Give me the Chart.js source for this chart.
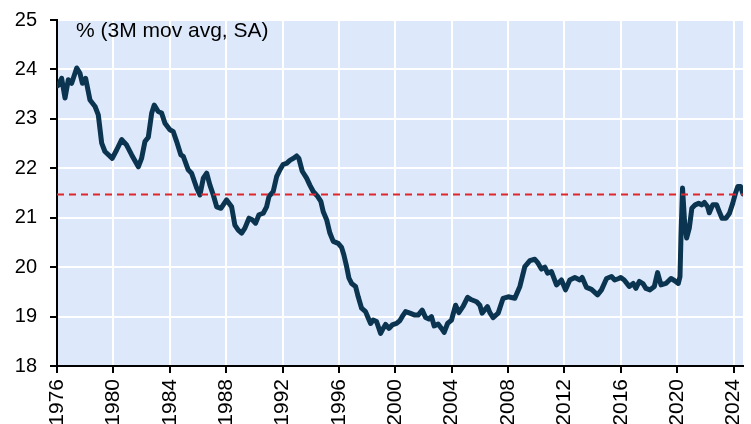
<!DOCTYPE html>
<html>
<head>
<meta charset="utf-8">
<script src="https://cdn.jsdelivr.net/npm/chart.js@4"></script>
<style>
  html, body { margin: 0; padding: 0; background: #fff; }
  #chart { display: block; }
</style>
</head>
<body>
<canvas id="chart" width="751" height="424"></canvas>
<script>
// values (decimal year, % 3M mov avg SA)
const years = [
  1976.05, 1976.33, 1976.57, 1976.8, 1977.04, 1977.4, 1977.63, 1977.8, 1978.03, 1978.34,
  1978.7, 1978.93, 1979.17, 1979.4, 1979.92, 1980.23, 1980.59, 1980.94, 1981.3, 1981.77,
  1982.0, 1982.24, 1982.48, 1982.72, 1982.9, 1983.18, 1983.42, 1983.66, 1984.01, 1984.25,
  1984.49, 1984.79, 1984.96, 1985.31, 1985.55, 1985.91, 1986.14, 1986.38, 1986.62, 1986.85,
  1987.09, 1987.33, 1987.63, 1988.03, 1988.39, 1988.62, 1988.86, 1989.1, 1989.33, 1989.62,
  1989.85, 1990.09, 1990.33, 1990.63, 1990.87, 1991.04, 1991.34, 1991.58, 1991.82, 1992.05,
  1992.29, 1992.52, 1992.76, 1993.0, 1993.16, 1993.4, 1993.71, 1993.94, 1994.18, 1994.49,
  1994.72, 1994.89, 1995.13, 1995.36, 1995.6, 1995.95, 1996.19, 1996.35, 1996.55, 1996.71,
  1996.9, 1997.18, 1997.37, 1997.61, 1997.89, 1998.08, 1998.25, 1998.43, 1998.67, 1998.96,
  1999.14, 1999.31, 1999.55, 1999.78, 2000.09, 2000.33, 2000.56, 2000.73, 2001.04, 2001.39,
  2001.62, 2001.91, 2002.15, 2002.38, 2002.57, 2002.76, 2003.04, 2003.28, 2003.47, 2003.71,
  2003.99, 2004.28, 2004.51, 2004.82, 2005.13, 2005.41, 2005.77, 2006.0, 2006.16, 2006.54,
  2006.71, 2006.94, 2007.3, 2007.65, 2008.01, 2008.48, 2008.84, 2009.19, 2009.55, 2009.9,
  2010.13, 2010.37, 2010.61, 2010.8, 2011.08, 2011.44, 2011.79, 2012.08, 2012.38, 2012.74,
  2013.09, 2013.26, 2013.57, 2013.92, 2014.35, 2014.63, 2014.99, 2015.34, 2015.57, 2015.86,
  2016.0, 2016.24, 2016.6, 2016.88, 2017.07, 2017.31, 2017.59, 2017.78, 2018.07, 2018.38,
  2018.61, 2018.85, 2019.2, 2019.56, 2019.8, 2020.08, 2020.2, 2020.27, 2020.38, 2020.53,
  2020.67, 2020.86, 2021.04, 2021.28, 2021.52, 2021.76, 2021.93, 2022.16, 2022.28, 2022.52,
  2022.8, 2022.99, 2023.18, 2023.47, 2023.71, 2023.94, 2024.13, 2024.3, 2024.5, 2024.67
];
const values = [
  23.67, 23.82, 23.42, 23.79, 23.72, 24.03, 23.92, 23.72, 23.82, 23.38,
  23.25, 23.08, 22.51, 22.34, 22.20, 22.37, 22.58, 22.47, 22.27, 22.03,
  22.20, 22.54, 22.63, 23.12, 23.28, 23.15, 23.12, 22.91, 22.78, 22.74,
  22.54, 22.27, 22.24, 21.97, 21.90, 21.60, 21.46, 21.80, 21.90, 21.66,
  21.46, 21.22, 21.19, 21.36, 21.22, 20.85, 20.75, 20.69, 20.79, 20.99,
  20.96, 20.89, 21.06, 21.09, 21.22, 21.43, 21.53, 21.83, 21.97, 22.08,
  22.10, 22.16, 22.20, 22.25, 22.20, 21.94, 21.80, 21.66, 21.53, 21.43,
  21.33, 21.12, 20.96, 20.69, 20.52, 20.48, 20.40, 20.25, 20.01, 19.78,
  19.67, 19.61, 19.40, 19.17, 19.10, 18.97, 18.86, 18.93, 18.90, 18.66,
  18.76, 18.84, 18.76, 18.83, 18.86, 18.92, 19.03, 19.10, 19.07, 19.03,
  19.03, 19.13, 18.98, 18.95, 19.00, 18.81, 18.85, 18.76, 18.68, 18.86,
  18.93, 19.23, 19.08, 19.21, 19.39, 19.34, 19.30, 19.23, 19.07, 19.20,
  19.08, 18.98, 19.07, 19.37, 19.40, 19.37, 19.61, 20.01, 20.13, 20.16,
  20.08, 19.96, 20.00, 19.88, 19.91, 19.64, 19.74, 19.54, 19.74, 19.79,
  19.74, 19.79, 19.59, 19.55, 19.44, 19.54, 19.77, 19.81, 19.74, 19.77,
  19.79, 19.74, 19.61, 19.67, 19.57, 19.71, 19.66, 19.57, 19.54, 19.61,
  19.89, 19.64, 19.67, 19.77, 19.73, 19.67, 19.81, 20.62, 21.60, 20.89,
  20.59, 20.79, 21.19, 21.26, 21.29, 21.26, 21.31, 21.22, 21.10, 21.26,
  21.26, 21.12, 20.99, 20.99, 21.09, 21.29, 21.49, 21.63, 21.63, 21.48
];
const refLevel = 21.47;
const xTicks = [1976, 1980, 1984, 1988, 1992, 1996, 2000, 2004, 2008, 2012, 2016, 2020, 2024];
const yTicks = [18, 19, 20, 21, 22, 23, 24, 25];
const unitLabel = '% (3M mov avg, SA)';

const xMin = xTicks[0];
const xMax = years[years.length - 1];
const fontFamily = '"Liberation Sans", Arial, sans-serif';

const seriesPoints = years.map((yr, i) => ({ x: yr, y: values[i] }));
const refPoints = [{ x: xMin, y: refLevel }, { x: xMax, y: refLevel }];

const plotBackground = {
  id: 'plotBackground',
  beforeDraw(chart) {
    const { ctx, chartArea: a } = chart;
    ctx.save();
    ctx.fillStyle = '#dde9fb';
    ctx.fillRect(a.left, a.top, a.right - a.left, a.bottom - a.top);
    ctx.restore();
  }
};

const unitText = {
  id: 'unitText',
  afterDraw(chart) {
    const { ctx, chartArea: a } = chart;
    ctx.save();
    ctx.font = '21px ' + fontFamily;
    ctx.fillStyle = '#000';
    ctx.textBaseline = 'middle';
    ctx.fillText(unitLabel, a.left + 19, a.top + 11);
    ctx.restore();
  }
};

function noPad(axis) {
  axis.paddingLeft = 0;
  axis.paddingRight = 0;
  axis.paddingTop = 0;
  axis.paddingBottom = 0;
}

new Chart(document.getElementById('chart'), {
  type: 'line',
  data: {
    datasets: [
      {
        data: seriesPoints,
        borderColor: '#0b3450',
        borderWidth: 5,
        pointRadius: 0,
        tension: 0,
        borderJoinStyle: 'round',
        borderCapStyle: 'round',
        order: 2
      },
      {
        data: refPoints,
        borderColor: '#e0252b',
        borderWidth: 2,
        borderDash: [7, 5],
        pointRadius: 0,
        order: 1
      }
    ]
  },
  options: {
    responsive: false,
    animation: false,
    devicePixelRatio: 1,
    layout: { padding: { top: 20, right: 8, left: 0, bottom: 0 } },
    plugins: {
      legend: { display: false },
      tooltip: { enabled: false }
    },
    scales: {
      x: {
        type: 'linear',
        min: xMin,
        max: xMax,
        afterBuildTicks(axis) {
          axis.ticks = xTicks.map(v => ({ value: v }));
        },
        afterFit(axis) {
          axis.height = 58;
          noPad(axis);
        },
        grid: { color: '#ffffff', lineWidth: 2, tickColor: '#000', tickLength: 7 },
        border: { color: '#000', width: 2 },
        ticks: {
          color: '#000',
          font: { family: fontFamily, size: 21 },
          maxRotation: 90,
          minRotation: 90,
          padding: 6,
          callback: v => String(v)
        }
      },
      y: {
        min: yTicks[0],
        max: yTicks[yTicks.length - 1],
        afterBuildTicks(axis) {
          axis.ticks = yTicks.map(v => ({ value: v }));
        },
        afterFit(axis) {
          axis.width = 57;
          noPad(axis);
        },
        grid: { color: '#ffffff', lineWidth: 2, tickColor: '#000', tickLength: 7 },
        border: { color: '#000', width: 2 },
        ticks: {
          color: '#000',
          font: { family: fontFamily, size: 20 },
          padding: 13
        }
      }
    }
  },
  plugins: [plotBackground, unitText]
});
</script>
</body>
</html>
